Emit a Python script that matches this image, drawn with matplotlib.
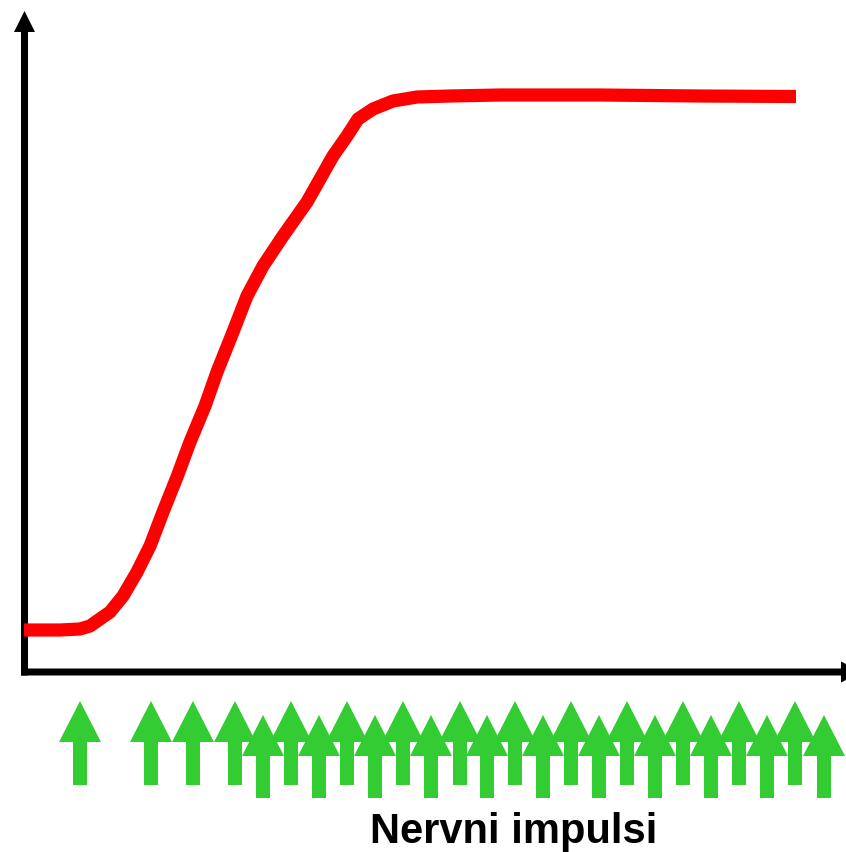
import matplotlib
matplotlib.use("Agg")
import matplotlib.pyplot as plt
from matplotlib.patches import FancyArrow

# krivulja odziva (sila misica) - vrednosti odcitane s slike
t = [-0.5, 35.5, 55.5, 65.5, 85.5, 98.5, 112.5, 125.5, 138.5, 152.5, 165.5, 180.5,
     192.5, 208.5, 222.5, 238.5, 258.5, 282.5, 308.5, 322.5, 333.5, 348.5, 368.5,
     392.5, 425.5, 475.5, 575.5, 675.5, 771.5]
sila = [42, 42, 43, 46, 60, 76, 100, 126, 160, 195, 230, 266,
        300, 340, 376, 406, 436, 470, 516, 536, 553, 563, 571,
        575, 576, 577, 577, 576, 575.5]

# casi zivcnih impulzov (dve vrsti puscic)
impulzi_zgoraj = [55.5, 126.5, 168.5, 210.5, 266.5, 322.5, 378.5, 435.5, 490.5,
                  546.5, 602.5, 658.5, 714.5, 770.5]
impulzi_spodaj = [238.5, 294.5, 350.5, 406.5, 462.5, 518.5, 574.5, 630.5, 686.5,
                  742.5, 799.5]

napis = "Nervni impulsi"

fig = plt.figure(figsize=(8.46, 8.53), dpi=100)
ax = fig.add_axes([0, 0, 1, 1])
ax.set_xlim(-24.5, 821.5)
ax.set_ylim(-180, 673)
ax.axis("off")

zelena = "#33cc33"

# osi
ax.add_patch(FancyArrow(0, -3.5, 0, 664.5, width=7, head_width=21, head_length=21,
                        length_includes_head=True, color="black", lw=0))
ax.add_patch(FancyArrow(-3.5, 0, 841, 0, width=7, head_width=21, head_length=21,
                        length_includes_head=True, color="black", lw=0,
                        clip_on=False))

# krivulja
ax.plot(t, sila, color="red", lw=9.5, solid_joinstyle="round",
        solid_capstyle="butt")

# puscice impulzov
for x in impulzi_zgoraj:
    ax.add_patch(FancyArrow(x, -113, 0, 84, width=14, head_width=42, head_length=41,
                            length_includes_head=True, color=zelena, lw=0))
for x in impulzi_spodaj:
    ax.add_patch(FancyArrow(x, -126, 0, 83, width=14, head_width=42, head_length=41,
                            length_includes_head=True, color=zelena, lw=0))

ax.text(489, -170, napis, fontsize=30, fontweight="bold",
        family=["Liberation Sans", "DejaVu Sans"], ha="center", va="baseline")

fig.savefig("out.png", dpi=100)
